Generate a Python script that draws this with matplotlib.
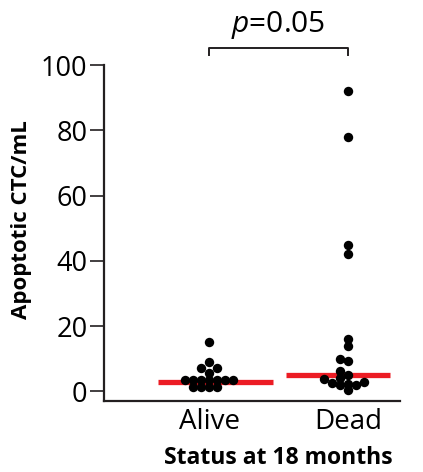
import numpy as np
import matplotlib
matplotlib.use('Agg')
import matplotlib.pyplot as plt

groups = ['Alive', 'Dead']
alive = [15, 9, 7.3, 7.3, 5.6, 3.4, 3.4, 3.4, 3.4, 3.4, 3.4, 3.4,
         1.2, 1.2, 1.2, 1.2]
dead = [92, 78, 45, 42, 16.2, 14, 10, 9.2, 6.4, 5.1, 4.1, 3.9, 2.9, 2.7,
        2.4, 2.1, 2.1, 0.3]
medians = [2.85, 5.1]
p_text = '$p$=0.05'

plt.rcParams['font.family'] = ['Open Sans', 'DejaVu Sans']
plt.rcParams['mathtext.fontset'] = 'custom'
plt.rcParams['mathtext.rm'] = 'Open Sans'
plt.rcParams['mathtext.it'] = 'Open Sans:italic'

fig = plt.figure(figsize=(4.23, 4.72), dpi=100)
ax = fig.add_axes([0.246, 0.150, 0.700, 0.712])
ax.set_xlim(-0.757, 1.375)
ax.set_ylim(-3, 100)


def swarm(ax, xc, vals, min_dist=6.5, step=8.0):
    # simple beeswarm in pixel space, dots may overlap a little
    to_px = ax.transData
    placed = []
    for v in sorted(vals):
        cx, cy = to_px.transform((xc, v))
        k = 0
        while True:
            cands = [0] if k == 0 else [-k * step, k * step]
            ok = None
            for off in cands:
                if all(np.hypot(cx + off - px, cy - py) >= min_dist
                       for px, py in placed):
                    ok = off
                    break
            if ok is not None:
                placed.append((cx + ok, cy))
                break
            k += 1
    inv = to_px.inverted()
    return np.array([inv.transform(p) for p in placed])


for i, vals in enumerate([alive, dead]):
    pts = swarm(ax, i, vals)
    ax.scatter(pts[:, 0], pts[:, 1], s=46, color='black', lw=0, zorder=3)

# median bars (extents relative to group position)
bar_ext = [(-0.37, 0.46), (-0.45, 0.30)]
for i, m in enumerate(medians):
    ax.plot([i + bar_ext[i][0], i + bar_ext[i][1]], [m, m], color='#ec1c24',
            lw=3.8, solid_capstyle='butt', zorder=2)

ax.set_xticks([0, 1])
ax.set_xticklabels(groups)
ax.set_yticks([0, 20, 40, 60, 80, 100])

for s in ['top', 'right']:
    ax.spines[s].set_visible(False)
for s in ['left', 'bottom']:
    ax.spines[s].set_linewidth(1.6)
    ax.spines[s].set_color('#231f20')

ax.tick_params(axis='y', length=10, width=1.2, labelsize=19.5, pad=2,
               color='#231f20')
ax.tick_params(axis='x', length=0, labelsize=20, pad=5)
ax.set_xlabel('Status at 18 months', fontsize=16.5, fontweight='bold')
ax.set_ylabel('Apoptotic CTC/mL', fontsize=16, fontweight='bold')
ax.xaxis.set_label_coords(0.589, -0.133)
ax.yaxis.set_label_coords(-0.245, 0.539)

# significance bracket
ax.plot([0, 0, 1, 1], [103, 105.3, 105.3, 103], color='#231f20', lw=1.4,
        clip_on=False)
ax.text(0.5, 107.5, p_text, ha='center', va='bottom', fontsize=21.5)

fig.savefig('out.png', dpi=100)
